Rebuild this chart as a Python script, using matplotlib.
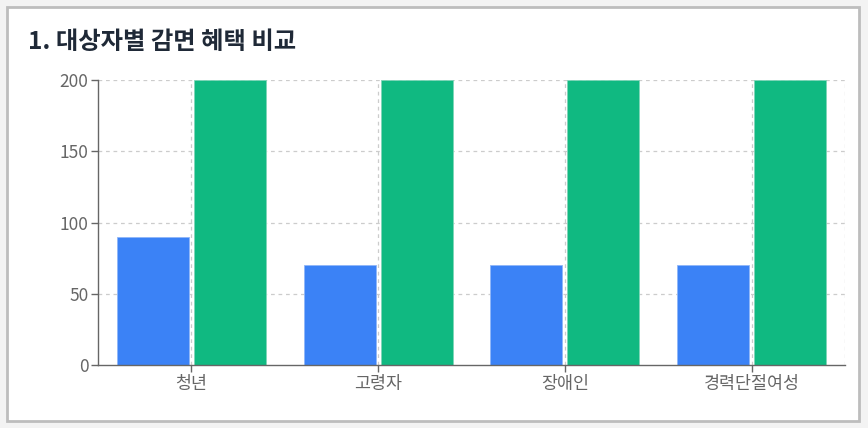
import numpy as np
import matplotlib.pyplot as plt
from matplotlib.patches import Rectangle

plt.rcParams['font.family'] = ['Noto Sans CJK KR', 'DejaVu Sans']

# data
categories = ['청년', '고령자', '장애인', '경력단절여성']
blue_values = [90, 70, 70, 70]
green_values = [200, 200, 200, 200]  # clipped at the axis top

W, H = 868, 428
fig = plt.figure(figsize=(W / 100, H / 100), dpi=100)
fig.patch.set_facecolor('#f3f3f3')

# white card with grey border
card = Rectangle((7 / W, 7 / H), 852 / W, 414 / H, transform=fig.transFigure,
                 facecolor='white', edgecolor='#bdbdbd', linewidth=2, zorder=-5)
fig.patches.append(card)

fig.text(28 / W, 1 - 42 / H, '1. 대상자별 감면 혜택 비교', fontsize=17.5,
         fontweight='bold', color='#1f2937', va='center', ha='left')

ax = fig.add_axes([98 / W, 63 / H, 747 / W, 285 / H])
ax.set_facecolor('none')
ax.set_zorder(2)

x = np.arange(len(categories))
bw = 0.385
gap = 0.014
ax.bar(x - bw / 2 - gap, blue_values, width=bw, color='#3b82f6',
       edgecolor='#8fb6f8', linewidth=0.6, zorder=2)
ax.bar(x + bw / 2 + gap, green_values, width=bw, color='#10b981',
       edgecolor='#7fd6b8', linewidth=0.6, zorder=2)

ax.set_xlim(-0.5, len(categories) - 0.5)
ax.set_ylim(0, 200)
ax.set_yticks([0, 50, 100, 150, 200])
ax.set_xticks(x)
ax.set_xticklabels(categories)

# dashed grid
for yv in [50, 100, 150, 200]:
    ax.axhline(yv, color='#cccccc', linestyle=(0, (3, 3)), linewidth=0.9, zorder=1)
for xv in x:
    ax.axvline(xv, color='#cccccc', linestyle=(0, (3, 3)), linewidth=0.9, zorder=1)
ax.axvline(len(categories) - 0.5, color='#cccccc', linestyle=(0, (3, 3)),
           linewidth=0.9, zorder=1)

for side in ['top', 'right']:
    ax.spines[side].set_visible(False)
for side in ['left', 'bottom']:
    ax.spines[side].set_color('#666666')
    ax.spines[side].set_linewidth(1.0)

ax.tick_params(axis='both', colors='#666666', labelsize=12.5, length=5, width=1)
ax.tick_params(axis='x', pad=2)
ax.tick_params(axis='y', pad=2)

fig.savefig('out.png', dpi=100, facecolor=fig.get_facecolor())
